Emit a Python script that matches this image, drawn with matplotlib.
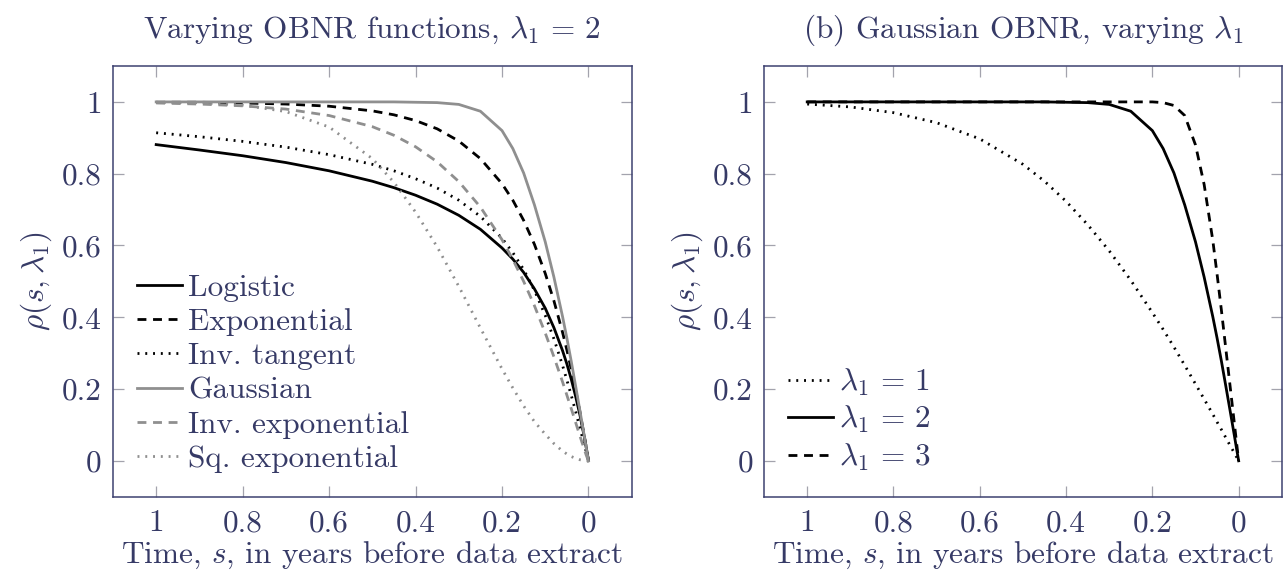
import matplotlib
matplotlib.use("Agg")
import matplotlib.pyplot as plt

# time before data extract (years)
s = [1, 0.9, 0.8, 0.7, 0.6, 0.5, 0.45, 0.4, 0.35, 0.3, 0.25, 0.2, 0.175, 0.15,
     0.125, 0.1, 0.08, 0.06, 0.05, 0.04, 0.03, 0.02, 0.01, 0.005, 0]

# left panel, lambda1 = 2
logistic = [0.881, 0.866, 0.850, 0.831, 0.808, 0.779, 0.761, 0.740, 0.715, 0.684, 0.645,
            0.593, 0.562, 0.525, 0.479, 0.425, 0.371, 0.307, 0.270, 0.228, 0.181, 0.129,
            0.069, 0.036, 0]
exponential = [0.999, 0.999, 0.997, 0.994, 0.988, 0.975, 0.964, 0.948, 0.925, 0.891, 0.842,
               0.772, 0.726, 0.670, 0.603, 0.522, 0.446, 0.358, 0.309, 0.256, 0.199, 0.138,
               0.071, 0.036, 0]
inv_tangent = [0.914, 0.903, 0.890, 0.874, 0.853, 0.826, 0.808, 0.786, 0.760, 0.726, 0.681,
               0.620, 0.580, 0.533, 0.475, 0.405, 0.340, 0.266, 0.225, 0.183, 0.139, 0.093,
               0.047, 0.024, 0]
gaussian = [1, 1, 1, 1, 1, 1, 1, 0.999, 0.998, 0.993, 0.974,
            0.920, 0.870, 0.802, 0.713, 0.610, 0.512, 0.402, 0.342, 0.278, 0.210, 0.141,
            0.071, 0.035, 0]
inv_exponential = [0.997, 0.994, 0.989, 0.980, 0.962, 0.931, 0.907, 0.875, 0.833, 0.778, 0.707,
                   0.616, 0.561, 0.500, 0.432, 0.356, 0.290, 0.220, 0.183, 0.146, 0.108, 0.070,
                   0.033, 0.015, 0]
sq_exponential = [0.999, 0.998, 0.991, 0.973, 0.930, 0.842, 0.776, 0.693, 0.596, 0.486, 0.370,
                  0.256, 0.203, 0.153, 0.109, 0.074, 0.048, 0.027, 0.019, 0.012, 0.007, 0.003,
                  0.001, 0.0002, 0]

# right panel, Gaussian OBNR
lam1 = [0.994, 0.986, 0.970, 0.942, 0.897, 0.826, 0.779, 0.723, 0.658, 0.585, 0.503,
        0.413, 0.366, 0.317, 0.266, 0.214, 0.172, 0.130, 0.108, 0.087, 0.065, 0.043,
        0.022, 0.011, 0]
lam2 = gaussian
lam3 = [1, 1, 1, 1, 1, 1, 1, 1, 1, 1, 1,
        1, 0.998, 0.990, 0.962, 0.880, 0.770, 0.615, 0.520, 0.420, 0.315, 0.210,
        0.105, 0.052, 0]

ticks = [0, 0.2, 0.4, 0.6, 0.8, 1]
tick_labels = ["0", "0.2", "0.4", "0.6", "0.8", "1"]

plt.rcParams["font.family"] = "serif"
plt.rcParams["font.serif"] = ["cmr10"]
plt.rcParams["mathtext.fontset"] = "cm"
plt.rcParams["axes.unicode_minus"] = False
plt.rcParams["axes.formatter.use_mathtext"] = True

txt = "#363a66"
frame = "#3d4170"
tickc = "#a3a3ad"
grey = "#8f8f8f"
fs = 22.5
lw = 2.0
dash = (3.2, 2.4)
dot = (0.7, 2.1)

fig = plt.figure(figsize=(12.85, 5.76), dpi=100)
ax1 = fig.add_axes([0.0879, 0.1377, 0.4037, 0.7477])
ax2 = fig.add_axes([0.5946, 0.1377, 0.4029, 0.7477])

ax1.plot(s, logistic, color="black", lw=lw, label="Logistic")
ax1.plot(s, exponential, color="black", lw=lw, dashes=dash, label="Exponential")
ax1.plot(s, inv_tangent, color="black", lw=lw, dashes=dot, label="Inv. tangent")
ax1.plot(s, gaussian, color=grey, lw=lw, label="Gaussian")
ax1.plot(s, inv_exponential, color=grey, lw=lw, dashes=dash, label="Inv. exponential")
ax1.plot(s, sq_exponential, color=grey, lw=lw, dashes=dot, label="Sq. exponential")

ax2.plot(s, lam1, color="black", lw=lw, dashes=dot, label=r"$\lambda_1\,=\,1$")
ax2.plot(s, lam2, color="black", lw=lw, label=r"$\lambda_1\,=\,2$")
ax2.plot(s, lam3, color="black", lw=lw, dashes=dash, label=r"$\lambda_1\,=\,3$")

ax1.set_title(r"Varying OBNR functions, $\lambda_1\,=\,2$", fontsize=fs, color=txt, pad=20)
ax2.set_title(r"(b) Gaussian OBNR, varying $\lambda_1$", fontsize=fs, color=txt, pad=20)

for ax in (ax1, ax2):
    ax.set_xlim(1.1, -0.1)
    ax.set_ylim(-0.1, 1.1)
    ax.set_xticks(ticks)
    ax.set_xticklabels(tick_labels)
    ax.set_yticks(ticks)
    ax.set_yticklabels(tick_labels)
    ax.tick_params(direction="in", length=8, width=0.9, color=tickc, labelsize=fs,
                   labelcolor=txt, top=True, right=True)
    ax.tick_params(axis="x", pad=9)
    ax.tick_params(axis="y", pad=8)
    for sp in ax.spines.values():
        sp.set_color(frame)
        sp.set_linewidth(1.1)
    ax.set_xlabel(r"Time, $s$, in years before data extract", fontsize=fs, color=txt, labelpad=2)
    ax.set_ylabel(r"$\rho(s, \lambda_1)$", fontsize=fs, color=txt, labelpad=6)
    leg = ax.legend(loc="lower left", bbox_to_anchor=(0.046, 0.055), frameon=False,
                    fontsize=fs, handlelength=1.45, handletextpad=0.2,
                    labelspacing=0.2, borderaxespad=0, borderpad=0)
    for t in leg.get_texts():
        t.set_color(txt)

fig.savefig("out.png", dpi=100)
